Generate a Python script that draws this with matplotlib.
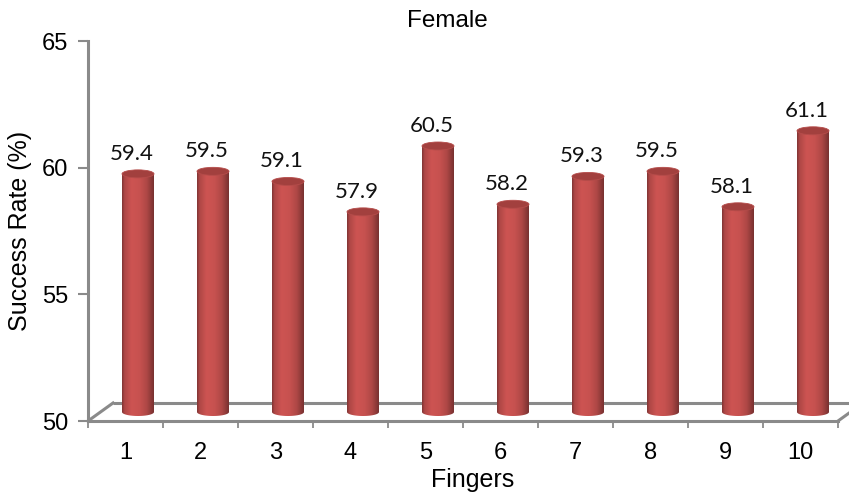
import numpy as np
import matplotlib
matplotlib.use("Agg")
import matplotlib.pyplot as plt
from matplotlib.patches import Ellipse, Polygon
from matplotlib.colors import to_rgb

# Chart data
fingers = ["1", "2", "3", "4", "5", "6", "7", "8", "9", "10"]
success_rate = [59.4, 59.5, 59.1, 57.9, 60.5, 58.2, 59.3, 59.5, 58.1, 61.1]
y_ticks = [50, 55, 60, 65]

W, H = 849, 496
fig = plt.figure(figsize=(W / 100, H / 100), dpi=100)
ax = fig.add_axes([88 / W, (H - 421) / H, 750 / W, 380 / H])
ax.set_xlim(0.5, len(fingers) + 0.5)
ax.set_ylim(50, 65)

# pixel -> data unit conversion for the pseudo-3D depth
px_x = 750 / len(fingers)
px_y = 380 / 15
depth_x = 25 / px_x
depth_y = 18 / px_y

axis_grey = "#8a8a8a"
sans = "Liberation Sans"

# floor outline (front edge is the bottom spine)
x0, x1 = 0.5, len(fingers) + 0.5
ax.plot([x0 + depth_x, x1 + depth_x], [50 + depth_y] * 2, color=axis_grey, lw=2.2,
        clip_on=False, zorder=1, solid_capstyle="butt")
ax.plot([x0, x0 + depth_x], [50, 50 + depth_y], color=axis_grey, lw=2.2,
        clip_on=False, zorder=1)
ax.plot([x1, x1 + depth_x], [50, 50 + depth_y], color=axis_grey, lw=2.2,
        clip_on=False, zorder=1)

# cylinder shading
base = np.array(to_rgb("#cd5452"))
f = np.linspace(0, 1, 200)
shade = np.interp(f, [0, 0.08, 0.3, 0.55, 0.78, 0.92, 1.0],
                  [0.62, 0.85, 1.0, 0.97, 0.85, 0.68, 0.58])
grad = np.clip(base[None, :] * shade[:, None], 0, 1)[None, :, :]

cyl_w = 32 / px_x
ell_h = 8 / px_y
a, b = cyl_w / 2, ell_h / 2
theta = np.linspace(np.pi, 2 * np.pi, 60)

for i, v in enumerate(success_rate, start=1):
    cx = i + depth_x / 2
    y_bot = 50 + depth_y / 2
    y_top = v + depth_y / 2
    # body outline: sides plus lower half of the base ellipse
    verts = [(cx - a, y_top)]
    verts += list(zip(cx + a * np.cos(theta), y_bot + b * np.sin(theta)))
    verts += [(cx + a, y_top)]
    body = Polygon(verts, closed=True, facecolor="none", edgecolor="none",
                   transform=ax.transData)
    ax.add_patch(body)
    im = ax.imshow(grad, extent=(cx - a, cx + a, y_bot - b, y_top),
                   aspect="auto", interpolation="bilinear", zorder=2)
    im.set_clip_path(body)
    top = Ellipse((cx, y_top), cyl_w, ell_h, angle=0, facecolor="#a2403e",
                  edgecolor="#b54c4a", lw=0.6, zorder=3)
    ax.add_patch(top)
    ax.annotate(f"{v:.1f}", xy=(cx, y_top), xytext=(-6, 14),
                textcoords="offset pixels", ha="center", va="baseline",
                fontsize=16, family=["Lato", "DejaVu Sans"], color="#111111",
                zorder=4)

ax.set_xlim(0.5, len(fingers) + 0.5)
ax.set_ylim(50, 65)

# axes styling
for s in ["top", "right"]:
    ax.spines[s].set_visible(False)
for s in ["left", "bottom"]:
    ax.spines[s].set_color(axis_grey)
    ax.spines[s].set_linewidth(2.2)
    ax.spines[s].set_zorder(1)

ax.set_yticks(y_ticks)
ax.set_yticklabels([str(t) for t in y_ticks], family=sans)
ax.tick_params(axis="y", length=7, width=1.5, color=axis_grey, labelsize=17,
               pad=7)

ax.set_xticks(np.arange(0.5, len(fingers) + 1, 1))
ax.set_xticklabels([])
ax.tick_params(axis="x", which="major", length=5, width=1.3, color=axis_grey)
ax.set_xticks(np.arange(1, len(fingers) + 1), minor=True)
ax.set_xticklabels(fingers, minor=True, family=sans)
ax.tick_params(axis="x", which="minor", length=0, labelsize=17, pad=15)

ax.set_xlabel("Fingers", family=sans, fontsize=18, labelpad=4)
ax.xaxis.set_label_coords((473 - 88) / 750, -(487 - 421) / 380)
ax.xaxis.label.set_va("baseline")
ax.set_ylabel("Success Rate (%)", family=sans, fontsize=18, labelpad=7)
fig.text(447 / W, 1 - 21 / H, "Female", family=sans, fontsize=17.5,
         ha="center", va="center")

fig.savefig("out.png", dpi=100)
